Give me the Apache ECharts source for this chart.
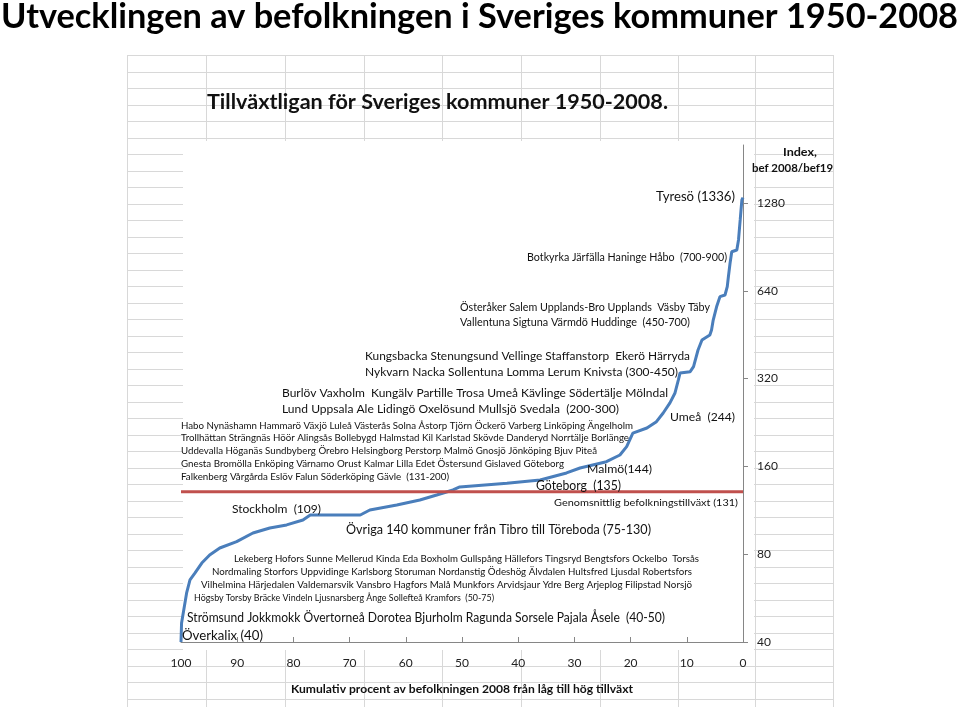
<!DOCTYPE html>
<html><head><meta charset="utf-8">
<script src="https://cdn.jsdelivr.net/npm/echarts@6/dist/echarts.min.js"></script>
<style>html,body{margin:0;padding:0;background:#fff}#c{width:960px;height:709px}</style>
</head><body><div id="c"></div>
<script>
// Cumulative percent of 2008 population (from low to high growth)
const cumPct = [100, 99.9, 99.6, 99.0, 98.4, 97.5, 96.3, 94.9, 93.1, 90.1, 87.2, 84.2, 81.2, 78.3, 77.0, 68.1, 66.4, 61.6, 57.5, 54.5, 51.6, 50.4, 42.0, 36.1, 31.4, 29.0, 24.3, 21.9, 20.7, 19.6, 17.1, 15.4, 14.2, 13.0, 12.1, 11.5, 11.2, 9.4, 8.8, 8.0, 7.3, 5.9, 5.6, 5.3, 4.7, 4.1, 3.2, 2.8, 2.6, 2.3, 2.0, 1.1, 0.8, 0.5, 0.2, 0];
// Index population 2008 / population 1950 (x100)
const indexVal = [40, 46.5, 50.3, 58.9, 65.3, 69.0, 74.6, 79.5, 84.0, 88.3, 94.6, 98.4, 100.8, 104.8, 109, 109, 113.4, 118, 122.7, 127.7, 132.8, 136, 140, 143.7, 151.9, 158, 166, 175, 187, 208, 216.6, 227.7, 243.9, 264, 285.6, 316.5, 334.5, 338, 351.6, 401, 434, 451.6, 469.8, 508, 564, 611, 619, 661, 715, 797, 871, 883, 956, 1119, 1311, 1336];
const avgIndex = 131;
const avgRange = [0, 100];
const xTickLabels = [0, 10, 20, 30, 40, 50, 60, 70, 80, 90, 100];
const yTickLabels = [40, 80, 160, 320, 640, 1280];
const yBase = 40;

const toY = v => Math.log2(v / yBase);
const FONT = 'Lato, "Open Sans", sans-serif';

const mctx = document.createElement('canvas').getContext('2d');
function fitText(t, x, y, w, size, bold, color) {
  const font = (bold ? 'bold ' : '') + size + 'px ' + FONT;
  mctx.font = font;
  const m = mctx.measureText(t).width;
  return { type: 'text', x: x, y: y, scaleX: w / m, z: 100,
    style: { text: t, font: font, fill: color || '#111', align: 'left', verticalAlign: 'middle' } };
}

const annotations = [
  ['Utvecklingen av befolkningen i Sveriges kommuner 1950-2008', 1, 17, 957, 34, true, '#000'],
  ['Tillväxtligan för Sveriges kommuner 1950-2008.', 207, 103, 461, 20, true],
  ['Index,', 783, 152, 34, 11, true],
  ['bef 2008/bef19', 752, 168, 81, 11, true],
  ['Tyresö (1336)', 656, 197, 79, 13],
  ['Botkyrka Järfälla Haninge Håbo  (700-900)', 527, 257, 200, 11],
  ['Österåker Salem Upplands-Bro Upplands  Väsby Täby', 460, 307, 250, 11],
  ['Vallentuna Sigtuna Värmdö Huddinge  (450-700)', 460, 322, 230, 11],
  ['Kungsbacka Stenungsund Vellinge Staffanstorp  Ekerö Härryda', 365, 356, 325, 11.5],
  ['Nykvarn Nacka Sollentuna Lomma Lerum Knivsta (300-450)', 365, 372, 313, 11.5],
  ['Burlöv Vaxholm  Kungälv Partille Trosa Umeå Kävlinge Södertälje Mölndal', 282, 393, 386, 11.5],
  ['Lund Uppsala Ale Lidingö Oxelösund Mullsjö Svedala  (200-300)', 282, 409, 337, 11.5],
  ['Umeå  (244)', 670, 417, 65, 12],
  ['Habo Nynäshamn Hammarö Växjö Luleå Västerås Solna Åstorp Tjörn Öckerö Varberg Linköping Ängelholm', 181, 426, 452, 9.5],
  ['Trollhättan Strängnäs Höör Alingsås Bollebygd Halmstad Kil Karlstad Skövde Danderyd Norrtälje Borlänge', 181, 438, 448, 9.5],
  ['Uddevalla Höganäs Sundbyberg Örebro Helsingborg Perstorp Malmö Gnosjö Jönköping Bjuv Piteå', 181, 451, 416, 9.5],
  ['Gnesta Bromölla Enköping Värnamo Orust Kalmar Lilla Edet Östersund Gislaved Göteborg', 181, 464, 383, 9.5],
  ['Falkenberg Vårgårda Eslöv Falun Söderköping Gävle  (131-200)', 181, 477, 268, 9.5],
  ['Malmö(144)', 587, 469, 65, 12],
  ['Göteborg  (135)', 536, 486, 85, 13],
  ['Genomsnittlig befolkningstillväxt (131)', 554, 503, 184, 10],
  ['Stockholm  (109)', 232, 509, 89, 12],
  ['Övriga 140 kommuner från Tibro till Töreboda (75-130)', 346, 529, 305, 14],
  ['Lekeberg Hofors Sunne Mellerud Kinda Eda Boxholm Gullspång Hällefors Tingsryd Bengtsfors Ockelbo  Torsås', 234, 559, 465, 9.5],
  ['Nordmaling Storfors Uppvidinge Karlsborg Storuman Nordanstig Ödeshög Älvdalen Hultsfred Ljusdal Robertsfors', 212, 572, 480, 9.5],
  ['Vilhelmina Härjedalen Valdemarsvik Vansbro Hagfors Malå Munkfors Arvidsjaur Ydre Berg Arjeplog Filipstad Norsjö', 201, 585, 491, 9.5],
  ['Högsby Torsby Bräcke Vindeln Ljusnarsberg Ånge Sollefteå Kramfors  (50-75)', 194, 598, 300, 9.5],
  ['Strömsund Jokkmokk Övertorneå Dorotea Bjurholm Ragunda Sorsele Pajala Åsele  (40-50)', 187, 618, 478, 13],
  ['Överkalix (40)', 182, 636, 81, 13],
  ['Kumulativ procent av befolkningen 2008 från låg till hög tillväxt', 291, 689, 342, 11.5, true]
];

// spreadsheet background grid (decoration)
const sheet = [];
const colX = [127, 206, 285, 364, 442, 521, 600, 678, 755, 833];
colX.forEach(x => sheet.push({ type: 'line', z: 0, z2: 0, silent: true,
  shape: { x1: x + 0.5, y1: 55, x2: x + 0.5, y2: 707 }, style: { stroke: '#d8d8d8', lineWidth: 1 } }));
for (let y = 55; y <= 708; y += 16.5) {
  sheet.push({ type: 'line', z: 0, z2: 0, silent: true,
    shape: { x1: 127, y1: Math.round(y) + 0.5, x2: 833, y2: Math.round(y) + 0.5 }, style: { stroke: '#d8d8d8', lineWidth: 1 } });
}
sheet.push({ type: 'rect', z: 0, z2: 1, silent: true, shape: { x: 183, y: 141, width: 571, height: 509 }, style: { fill: '#fff' } });

const graphics = sheet.concat(annotations.map(a => fitText(a[0], a[1], a[2], a[3], a[4], a[5], a[6])));

const chart = echarts.init(document.getElementById('c'), null, { renderer: 'canvas' });
chart.setOption({
  animation: false,
  backgroundColor: '#fff',
  textStyle: { fontFamily: FONT },
  grid: { left: 181, right: 217, top: 145, bottom: 67, containLabel: false },
  xAxis: {
    type: 'value', inverse: true, min: 0, max: 100, interval: 10,
    axisLine: { lineStyle: { color: '#868686', width: 1 } },
    axisTick: { inside: true, length: 5, lineStyle: { color: '#868686' } },
    axisLabel: { margin: 15, fontSize: 12, color: '#222', fontFamily: FONT,
      customValues: xTickLabels },
    splitLine: { show: false }
  },
  yAxis: {
    type: 'value', position: 'right', min: 0, max: 5.66,
    axisLine: { show: true, lineStyle: { color: '#868686', width: 1 } },
    axisTick: { show: true, length: 5, lineStyle: { color: '#868686' },
      customValues: yTickLabels.map(toY) },
    axisLabel: { margin: 14, fontSize: 12, color: '#222', fontFamily: FONT,
      customValues: yTickLabels.map(toY),
      formatter: v => String(Math.round(yBase * Math.pow(2, v))) },
    splitLine: { show: false }
  },
  graphic: graphics,
  series: [
    { type: 'line', name: 'Index', showSymbol: false, z: 3,
      data: cumPct.map((p, i) => [p, toY(indexVal[i])]),
      lineStyle: { color: '#4A7EBB', width: 3 } },
    { type: 'line', name: 'Genomsnitt', showSymbol: false, z: 4,
      data: avgRange.map(p => [p, toY(avgIndex)]),
      lineStyle: { color: '#C0504D', width: 3 } }
  ]
});
</script>
</body></html>
